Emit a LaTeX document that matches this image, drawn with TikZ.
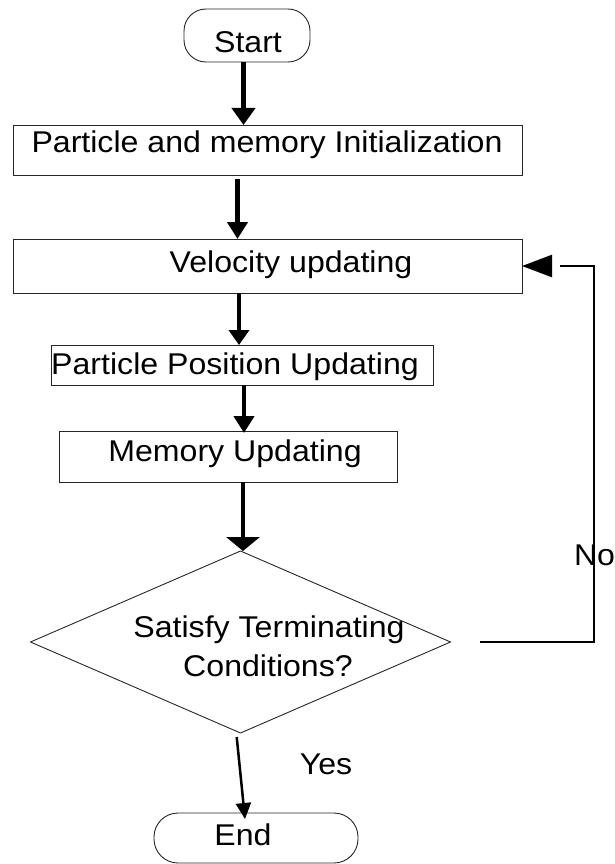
\documentclass[tikz,border=0pt]{standalone}
\usepackage{fontspec}
\setmainfont[FakeStretch=1.07]{Liberation Sans}
\usetikzlibrary{arrows.meta,shapes.geometric}
\begin{document}
\begin{tikzpicture}[x=1pt,y=-1pt,
  box/.style={draw=black!85, line width=0.9pt, inner sep=0pt, outer sep=0pt, rectangle},
  term/.style={box},
  txt/.style={inner sep=0pt, outer sep=0pt, anchor=base, font=\fontsize{30}{36}\selectfont},
  flow/.style n args={2}{line width=4.5pt, -{Triangle[width=#1, length=#2]}},
  yesarr/.style={line width=2.5pt, -{Triangle[width=15pt, length=16pt]}},
  fb/.style={line width=2.5pt},
  fbtip/.style={line width=2.5pt, -{Triangle[width=22pt, length=30pt]}}]
\useasboundingbox (0,0) rectangle (615,864);

% process steps
\node[term, rounded corners=22pt, minimum width=126pt, minimum height=53pt] (start) at (247,35.5) {};
\node[txt] (startT) at (248,53) {Start};

\node[box, minimum width=509pt, minimum height=50pt] (init) at (267.5,150) {};
\node[txt] (initT) at (267,153) {Particle and memory Initialization};

\node[box, minimum width=509pt, minimum height=54pt] (vel) at (267.5,266) {};
\node[txt] (velT) at (291,272) {Velocity updating};

\node[box, minimum width=381.5pt, minimum height=40pt] (pp) at (242.25,365) {};
\node[txt] (ppT) at (235,374) {Particle Position Updating};

\node[box, minimum width=338pt, minimum height=51pt] (mem) at (228,456.5) {};
\node[txt] (memT) at (235,461) {Memory Updating};

\node[box, shape=diamond, minimum width=420pt, minimum height=182pt] (dec) at (240.5,642) {};
\node[txt] (decT1) at (269,637) {Satisfy Terminating};
\node[txt] (decT2) at (268,676) {Conditions?};

\node[term, rounded corners=24pt, minimum width=204pt, minimum height=50pt] (end) at (256,838) {};
\node[txt] (endT) at (243,845) {End};

% branch labels
\node[txt] (yes) at (326,774) {Yes};
\node[txt, anchor=base west] (no) at (574,565) {No};

% main flow
\draw[flow={23pt}{17pt}] ([xshift=-3.5pt]start.south) -- ([xshift=-3.5pt]start.south |- init.north);
\draw[flow={20pt}{17pt}, shorten <=4pt] ([xshift=-30pt]init.south) -- ([xshift=-30pt]init.south |- vel.north);
\draw[flow={20pt}{15pt}] ([xshift=-28.5pt]vel.south) -- ([xshift=-28.5pt]vel.south |- pp.north);
\draw[flow={20pt}{17pt}, shorten >=-2pt] ([xshift=1.75pt]pp.south) -- ([xshift=1.75pt]pp.south |- mem.north);
\draw[flow={33pt}{14pt}] ([xshift=15pt]mem.south) -- ([xshift=15pt]mem.south |- dec.north);

% yes branch
\draw[yesarr] ([xshift=-3.8pt,yshift=-4pt]dec.south) -- ([xshift=-11pt,yshift=-6pt]end.north);

% no branch loops back to velocity updating
\coordinate (loop) at (594,266);
\draw[fb, shorten <=29pt] (dec.east) -| (loop) -- ([xshift=38pt]vel.east);
\draw[fbtip] ([xshift=30pt]vel.east) -- (vel.east);
\end{tikzpicture}
\end{document}
